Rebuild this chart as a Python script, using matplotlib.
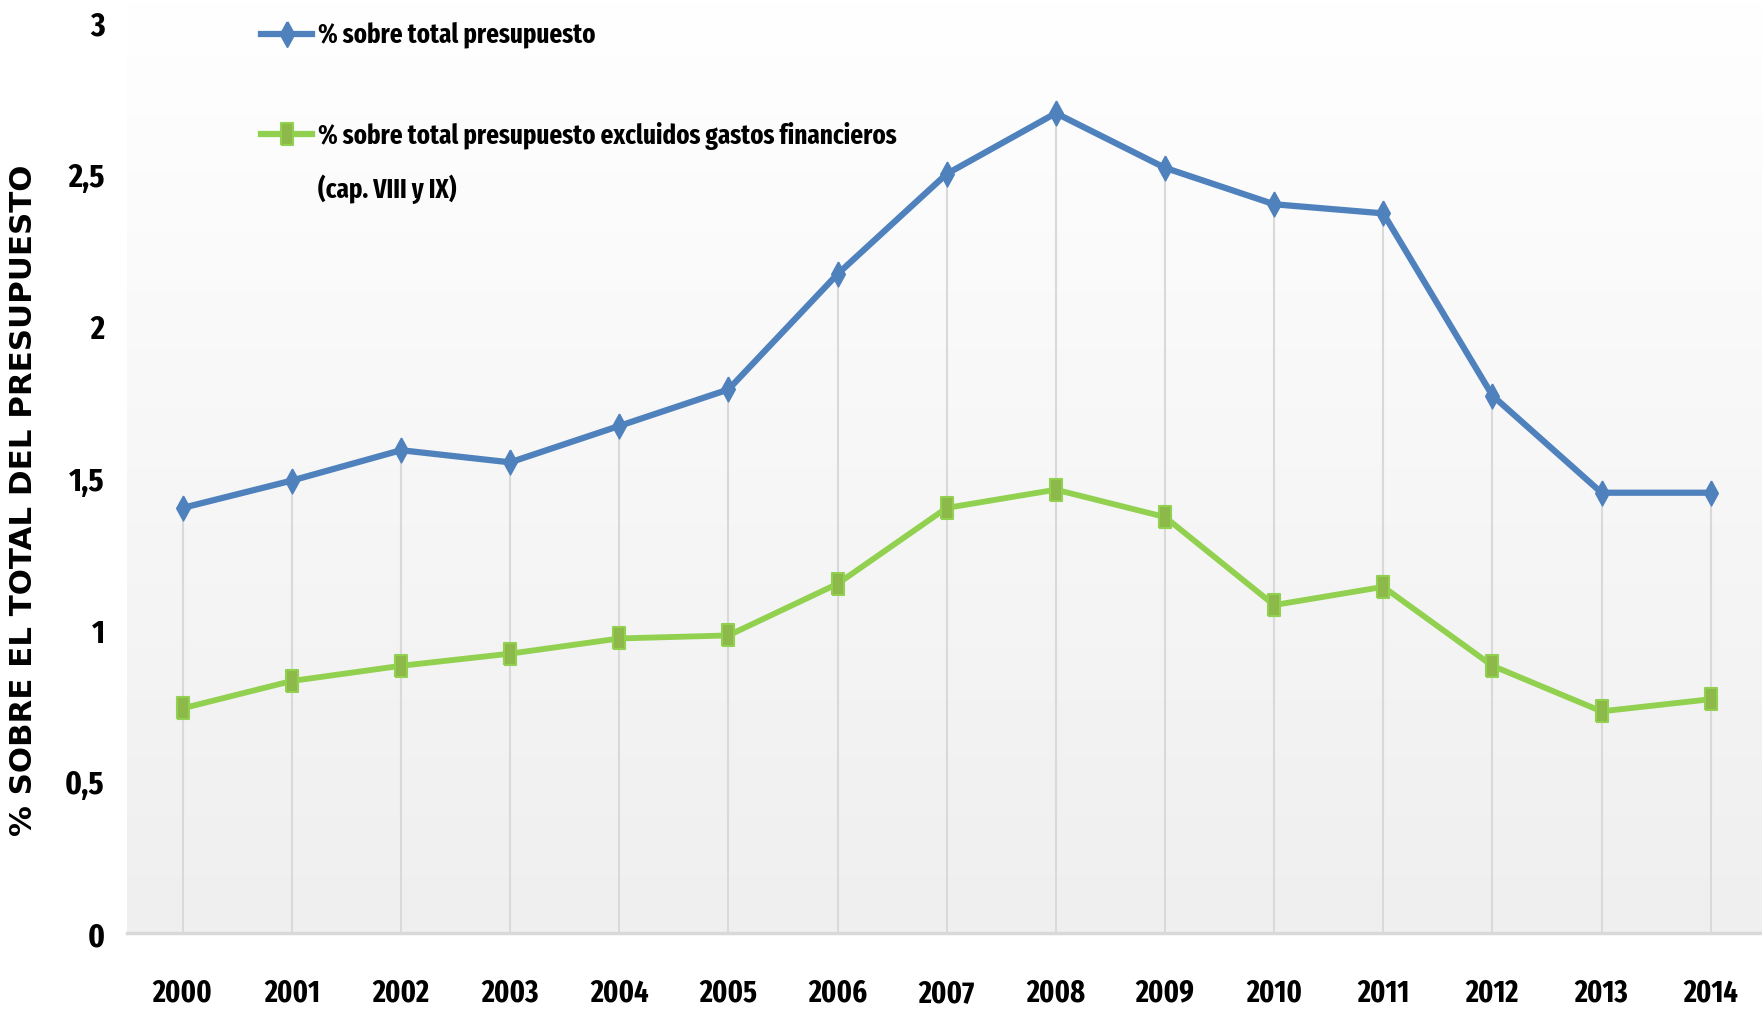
import numpy as np
import matplotlib
matplotlib.use('Agg')
import matplotlib.pyplot as plt
from matplotlib.colors import LinearSegmentedColormap
from matplotlib.lines import Line2D

plt.rcParams['font.family'] = ['Fira Sans Extra Condensed', 'DejaVu Sans']
plt.rcParams['font.weight'] = 'bold'

# data
years = list(range(2000, 2015))
total = [1.40, 1.49, 1.59, 1.55, 1.67, 1.79, 2.17, 2.50, 2.70, 2.52, 2.40, 2.37, 1.77, 1.45, 1.45]
excl = [0.74, 0.83, 0.88, 0.92, 0.97, 0.98, 1.15, 1.40, 1.46, 1.37, 1.08, 1.14, 0.88, 0.73, 0.77]
yticks = [0, 0.5, 1, 1.5, 2, 2.5, 3]
ytick_labels = ['0', '0,5', '1', '1,5', '2', '2,5', '3']
label_total = '% sobre total presupuesto'
label_excl = ['% sobre total presupuesto excluidos gastos financieros', '(cap. VIII y IX)']
ylabel = '% SOBRE EL TOTAL DEL PRESUPUESTO'

blue = '#4F81BD'
green = '#92D050'
W, H = 1762, 1012

def px(x, y):
    return x / W, 1 - y / H

diamond = [(0, 1), (0.55, 0), (0, -1), (-0.55, 0), (0, 1)]
rect = [(-0.5, -1), (0.5, -1), (0.5, 1), (-0.5, 1), (-0.5, -1)]

fig = plt.figure(figsize=(W / 100, H / 100), dpi=100)
ax = fig.add_axes([127 / W, 1 - 934 / H, 1 - 127 / W, 934 / H])

# background gradient of the plot area
cmap = LinearSegmentedColormap.from_list('bg', ['#FFFFFF', '#EFEFEF'])
ax.imshow(np.linspace(0, 1, 256).reshape(-1, 1), cmap=cmap, extent=[0, 1, 0, 1],
          transform=ax.transAxes, aspect='auto', zorder=0)

ax.vlines(years, 0, total, colors='#D9D9D9', linewidth=1.5, zorder=1)
ax.plot(years, total, color=blue, lw=4.5, marker=diamond, ms=18,
        mfc=blue, mec=blue, zorder=3)
ax.plot(years, excl, color=green, lw=4.2, marker=rect, ms=16.5,
        mfc='#8DB84A', mec=green, mew=1.5, zorder=3)

ax.set_xlim(1999.49, 2014.47)
ax.set_ylim(0, 3.076)
ax.set_xticks(years)
ax.set_xticklabels([str(y) for y in years], fontsize=22, fontweight='bold')
ax.set_yticks(yticks)
ax.set_yticklabels(ytick_labels, fontsize=24, fontweight='bold')
ax.tick_params(axis='x', length=0, pad=32)
ax.tick_params(axis='y', length=0, pad=16)
for s in ['top', 'right', 'left']:
    ax.spines[s].set_visible(False)
ax.spines['bottom'].set_color('#D9D9D9')
ax.spines['bottom'].set_linewidth(2.5)

fig.text(24 / W, 1 - 500 / H, ylabel, rotation=90, ha='center', va='center',
         fontsize=22.2, fontweight='bold', family='DejaVu Sans')

# legend drawn by hand so the marker sits on the first text line
for y, c, m, ms, mfc in [(35, blue, diamond, 18, blue), (135, green, rect, 16.5, '#8DB84A')]:
    x0, y0 = px(261, y)
    x1, _ = px(312, y)
    fig.add_artist(Line2D([x0, x1], [y0, y0], transform=fig.transFigure, color=c, lw=4.5))
    xm, _ = px(287, y)
    fig.add_artist(Line2D([xm], [y0], transform=fig.transFigure, color=c, marker=m,
                          ms=ms, mfc=mfc, mec=c, mew=1.5))

fig.text(*px(318, 36), label_total, ha='left', va='center', fontsize=19.5, fontweight='bold')
fig.text(*px(318, 136), label_excl[0], ha='left', va='center', fontsize=19.5, fontweight='bold')
fig.text(*px(318, 189), label_excl[1], ha='left', va='center', fontsize=19.5, fontweight='bold')

fig.savefig('out.png', dpi=100)
